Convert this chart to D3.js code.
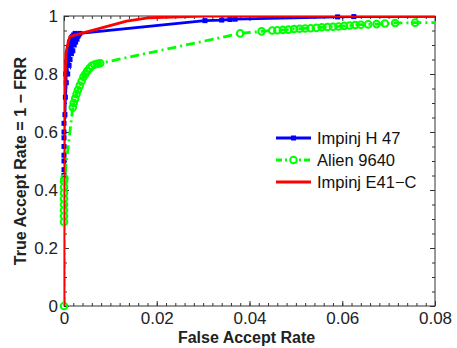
<!DOCTYPE html>
<html>
<head>
<meta charset="utf-8">
<script src="https://cdn.jsdelivr.net/npm/d3@7"></script>
<style>
  body { margin: 0; background: #fff; }
  text { font-family: Arial, "Liberation Sans", sans-serif; }
</style>
</head>
<body>
<div id="chart"></div>
<script>
// Impinj H 47 (blue, squares)
const h47X = [0, 0, 0, 0, 0, 0, 0, 0, 0.0002, 0.0003, 0.0005, 0.0004, 0.0008, 0.0006, 0.0011, 0.0008, 0.0013, 0.001, 0.0016, 0.0012, 0.0019, 0.0015, 0.0022, 0.0018,
              0.0025, 0.0021, 0.0028, 0.0024, 0.003, 0.0032, 0.0034,
              0.0304, 0.034, 0.0358, 0.0369, 0.059, 0.0625, 0.1];
const h47Y = [0.45, 0.47, 0.5, 0.52, 0.55, 0.58, 0.6, 0.63, 0.66, 0.72, 0.77, 0.8, 0.8, 0.84, 0.83, 0.87, 0.85, 0.89, 0.87, 0.91, 0.88, 0.92, 0.9, 0.93,
              0.91, 0.935, 0.92, 0.94, 0.93, 0.935, 0.94,
              0.984, 0.986, 0.988, 0.989, 0.997, 0.998, 1.0];

// Alien 9640 (green, dash-dot, open circles)
const alienX = [0, 0, 0, 0, 0, 0, 0, 0, 0, 0.0001,
                0.0019, 0.0021, 0.0024, 0.0027, 0.003, 0.0034, 0.0038, 0.0042, 0.0046, 0.005, 0.0055, 0.006, 0.0066, 0.0072, 0.0078,
                0.038, 0.0426, 0.0449, 0.046, 0.0472, 0.0484, 0.0496, 0.0508, 0.052, 0.0532, 0.0544, 0.0556, 0.0568, 0.058, 0.0592, 0.0604,
                0.0616, 0.0628, 0.064, 0.0656, 0.0674, 0.0692, 0.0714, 0.0757, 0.085];
const alienY = [0, 0.29, 0.31, 0.33, 0.35, 0.37, 0.39, 0.41, 0.43, 0.44,
                0.685, 0.7, 0.715, 0.73, 0.745, 0.76, 0.775, 0.79, 0.8, 0.81, 0.82, 0.828, 0.833, 0.835, 0.837,
                0.94, 0.947, 0.95, 0.951, 0.952, 0.953, 0.955, 0.956, 0.957, 0.958, 0.959, 0.961, 0.962, 0.963, 0.964, 0.966,
                0.967, 0.969, 0.97, 0.971, 0.972, 0.974, 0.976, 0.977, 0.978];

// Impinj E41-C (red, solid)
const e41X = [0, 0, 0.0002, 0.0004, 0.0009, 0.0013, 0.0135, 0.0185, 0.03, 0.1];
const e41Y = [0, 0.6, 0.75, 0.87, 0.91, 0.93, 0.982, 0.994, 1.0, 1.0];

const xTicks = [0, 0.02, 0.04, 0.06, 0.08];
const xTickLabels = ["0", "0.02", "0.04", "0.06", "0.08"];
const yTicks = [0, 0.2, 0.4, 0.6, 0.8, 1];
const yTickLabels = ["0", "0.2", "0.4", "0.6", "0.8", "1"];

const series = [
    {name: "Impinj H 47", x: h47X, y: h47Y, color: "#0000ff", dash: null, marker: "square"},
    {name: "Alien 9640", x: alienX, y: alienY, color: "#00ff00", dash: "9,4,2,4", marker: "circle"},
    {name: "Impinj E41\u2212C", x: e41X, y: e41Y, color: "#ff0000", dash: null, marker: null}
];

const margin = {top: 16, right: 22, bottom: 42, left: 64};
const width = 457 - margin.left - margin.right;
const height = 348 - margin.top - margin.bottom;

const svg = d3.select("#chart")
    .append("svg")
    .attr("width", width + margin.left + margin.right)
    .attr("height", height + margin.top + margin.bottom)
    .append("g")
    .attr("transform", `translate(${margin.left},${margin.top})`);

const xScale = d3.scaleLinear().domain([0, 0.08]).range([0, width]);
const yScale = d3.scaleLinear().domain([0, 1]).range([height, 0]);

svg.append("clipPath")
    .attr("id", "plot-clip")
    .append("rect")
    .attr("width", width)
    .attr("height", height);

// Axes with inward ticks on all four sides
const axisColor = "#333";
function styleAxis(g) {
    g.select(".domain").remove();
    g.selectAll(".tick line").attr("stroke", axisColor);
    g.selectAll("text").attr("fill", "#222").style("font-size", "17px");
}

svg.append("g")
    .attr("transform", `translate(0,${height})`)
    .call(d3.axisBottom(xScale).tickValues(xTicks).tickFormat((d, i) => xTickLabels[i]).tickSizeInner(-5).tickSizeOuter(0).tickPadding(6))
    .call(styleAxis);
svg.append("g")
    .attr("transform", `translate(0,${height})`)
    .call(d3.axisBottom(xScale).tickValues(d3.range(0, 0.0801, 0.002)).tickFormat("").tickSizeInner(-3).tickSizeOuter(0))
    .call(styleAxis);
svg.append("g")
    .call(d3.axisTop(xScale).tickValues(xTicks).tickFormat("").tickSizeInner(-5).tickSizeOuter(0))
    .call(styleAxis);
svg.append("g")
    .call(d3.axisTop(xScale).tickValues(d3.range(0, 0.0801, 0.002)).tickFormat("").tickSizeInner(-3).tickSizeOuter(0))
    .call(styleAxis);

svg.append("g")
    .call(d3.axisLeft(yScale).tickValues(yTicks).tickFormat((d, i) => yTickLabels[i]).tickSizeInner(-5).tickSizeOuter(0).tickPadding(6))
    .call(styleAxis);
svg.append("g")
    .call(d3.axisLeft(yScale).tickValues(d3.range(0, 1.001, 0.05)).tickFormat("").tickSizeInner(-3).tickSizeOuter(0))
    .call(styleAxis);
svg.append("g")
    .attr("transform", `translate(${width},0)`)
    .call(d3.axisRight(yScale).tickValues(yTicks).tickFormat("").tickSizeInner(-5).tickSizeOuter(0))
    .call(styleAxis);
svg.append("g")
    .attr("transform", `translate(${width},0)`)
    .call(d3.axisRight(yScale).tickValues(d3.range(0, 1.001, 0.05)).tickFormat("").tickSizeInner(-3).tickSizeOuter(0))
    .call(styleAxis);

// Box
svg.append("rect")
    .attr("width", width)
    .attr("height", height)
    .attr("fill", "none")
    .attr("stroke", axisColor)
    .attr("stroke-width", 1);

// Lines and markers
const line = d3.line()
    .x(d => xScale(d[0]))
    .y(d => yScale(d[1]));

series.forEach(function(s) {
    const pts = s.x.map((v, i) => [v, s.y[i]]);
    svg.append("path")
        .datum(pts)
        .attr("clip-path", "url(#plot-clip)")
        .attr("fill", "none")
        .attr("stroke", s.color)
        .attr("stroke-width", 2.8)
        .attr("stroke-dasharray", s.dash)
        .attr("d", line);

    const inside = pts.filter(d => d[0] <= 0.08);
    if (s.marker === "square") {
        svg.selectAll(null)
            .data(inside)
            .enter().append("rect")
            .attr("x", d => xScale(d[0]) - 2.5)
            .attr("y", d => yScale(d[1]) - 2.5)
            .attr("width", 5)
            .attr("height", 5)
            .attr("fill", s.color);
    } else if (s.marker === "circle") {
        svg.selectAll(null)
            .data(inside)
            .enter().append("circle")
            .attr("cx", d => xScale(d[0]))
            .attr("cy", d => yScale(d[1]))
            .attr("r", 3.3)
            .attr("fill", "none")
            .attr("stroke", s.color)
            .attr("stroke-width", 2);
    }
});

// Legend
const legend = svg.selectAll(".legend")
    .data(series)
    .enter().append("g")
    .attr("class", "legend")
    .attr("transform", (d, i) => `translate(${276 - margin.left},${138 - margin.top + i * 22})`);

legend.append("line")
    .attr("x1", 0)
    .attr("x2", 35)
    .attr("stroke", d => d.color)
    .attr("stroke-width", 2.8)
    .attr("stroke-dasharray", d => d.dash ? "6,3,2,3" : null);

legend.filter(d => d.marker === "square").append("rect")
    .attr("x", 15)
    .attr("y", -2.5)
    .attr("width", 5)
    .attr("height", 5)
    .attr("fill", d => d.color);

legend.filter(d => d.marker === "circle").append("circle")
    .attr("cx", 17.5)
    .attr("r", 3.3)
    .attr("fill", "#fff")
    .attr("stroke", d => d.color)
    .attr("stroke-width", 2);

legend.append("text")
    .attr("x", 41)
    .attr("dy", "0.35em")
    .style("font-size", "16.5px")
    .attr("fill", "#111")
    .text(d => d.name);

// Axis titles
svg.append("text")
    .attr("x", 246.5 - margin.left)
    .attr("y", 343 - margin.top)
    .style("text-anchor", "middle")
    .style("font-size", "16px")
    .style("font-weight", "bold")
    .attr("fill", "#222")
    .text("False Accept Rate");

svg.append("text")
    .attr("transform", `translate(${26 - margin.left},${161 - margin.top}) rotate(-90)`)
    .style("text-anchor", "middle")
    .style("font-size", "16px")
    .style("font-weight", "bold")
    .attr("fill", "#222")
    .text("True Accept Rate = 1 \u2212 FRR");
</script>
</body>
</html>
